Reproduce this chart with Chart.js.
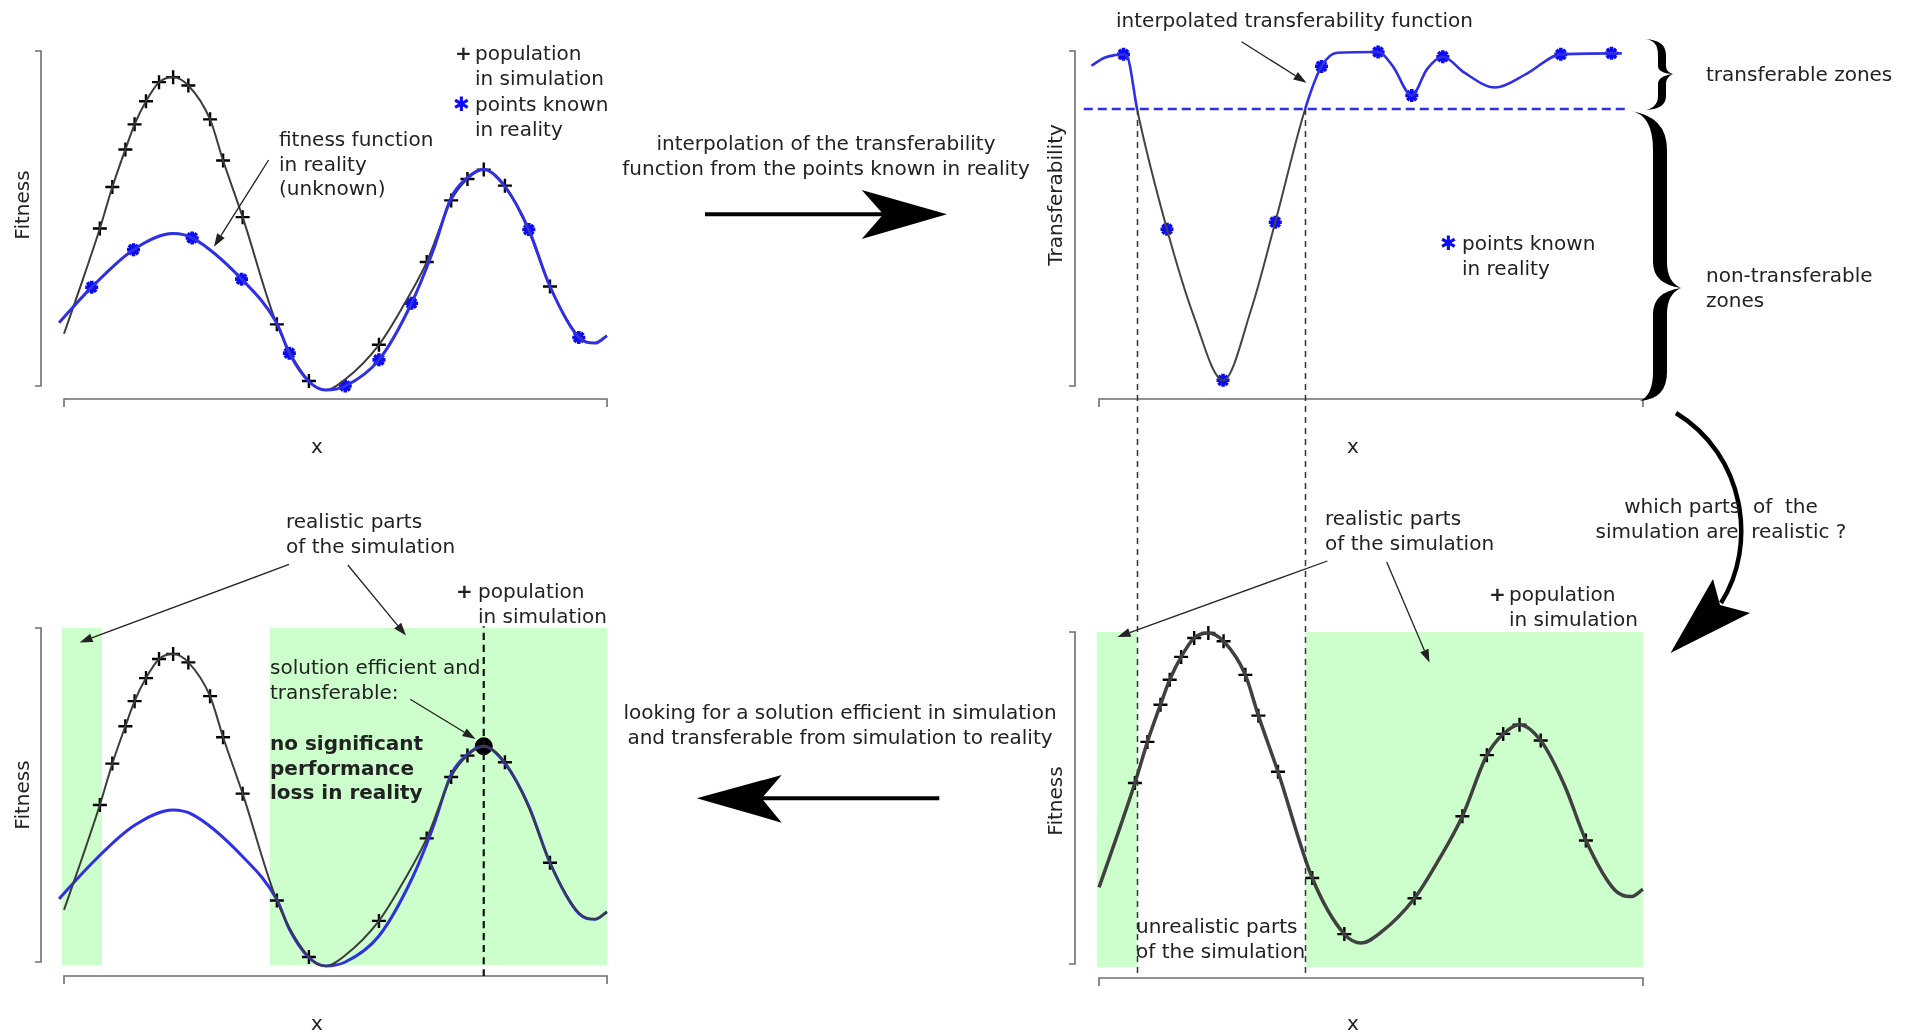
<!DOCTYPE html>
<html>
<head>
<meta charset="utf-8">
<title>Transferability approach</title>
<script src="https://cdn.jsdelivr.net/npm/chart.js@4.4.0/dist/chart.umd.min.js"></script>
<style>
  body { margin: 0; background: #fff; width: 1915px; height: 1032px; overflow: hidden; position: relative;
         font-family: "DejaVu Sans", sans-serif; font-size: 20px; color: #222; }
  canvas { position: absolute; }
  .t { position: absolute; line-height: 24.5px; white-space: nowrap; }
  .cc { position: absolute; line-height: 24.5px; white-space: nowrap; text-align: center; transform: translate(-50%, -50%); }
  .rot { position: absolute; white-space: nowrap; transform: translate(-50%, -50%) rotate(-90deg); }
  .b { font-weight: bold; }
  .blue { color: #0b0bf5; }
  svg { position: absolute; left: 0; top: 0; }
</style>
</head>
<body>
<canvas id="cTL"></canvas>
<canvas id="cBL"></canvas>
<canvas id="cBR"></canvas>
<canvas id="cTR"></canvas>
<svg id="ov" width="1915" height="1032"></svg>

<!-- top left -->
<div class="t b" style="left:455px;top:41px">+</div>
<div class="t" style="left:475px;top:41px">population<br>in simulation</div>
<div class="t blue" style="left:453px;top:92px">✱</div>
<div class="t" style="left:475px;top:92px">points known<br>in reality</div>
<div class="t" style="left:279px;top:127px">fitness function<br>in reality<br>(unknown)</div>
<div class="rot" style="left:22px;top:205px">Fitness</div>
<div class="cc" style="left:317px;top:446px">x</div>

<div class="cc" style="left:826px;top:155px">interpolation of the transferability<br>function from the points known in reality</div>

<!-- top right -->
<div class="t" style="left:1116px;top:8px">interpolated transferability function</div>
<div class="t blue" style="left:1440px;top:231px">✱</div>
<div class="t" style="left:1462px;top:231px">points known<br>in reality</div>
<div class="t" style="left:1706px;top:62px">transferable zones</div>
<div class="t" style="left:1706px;top:263px">non-transferable<br>zones</div>
<div class="rot" style="left:1055px;top:195px">Transferability</div>
<div class="cc" style="left:1353px;top:446px">x</div>

<div class="cc" style="left:840px;top:724px">looking for a solution efficient in simulation<br>and transferable from simulation to reality</div>

<!-- bottom left -->
<div class="t" style="left:286px;top:509px">realistic parts<br>of the simulation</div>
<div class="t b" style="left:456px;top:579px">+</div>
<div class="t" style="left:478px;top:579px">population<br>in simulation</div>
<div class="t" style="left:270px;top:655px">solution efficient and<br>transferable:</div>
<div class="t b" style="left:270px;top:731px">no significant<br>performance<br>loss in reality</div>
<div class="rot" style="left:22px;top:795px">Fitness</div>
<div class="cc" style="left:317px;top:1023px">x</div>

<!-- bottom right -->
<div class="t" style="left:1325px;top:506px">realistic parts<br>of the simulation</div>
<div class="t b" style="left:1489px;top:582px">+</div>
<div class="t" style="left:1509px;top:582px">population<br>in simulation</div>
<div class="t" style="left:1136px;top:914px">unrealistic parts<br>of the simulation</div>
<div class="cc" style="left:1721px;top:518px">which parts&nbsp;&nbsp;of&nbsp;&nbsp;the<br>simulation are&nbsp;&nbsp;realistic ?</div>
<div class="rot" style="left:1055px;top:801px">Fitness</div>
<div class="cc" style="left:1353px;top:1023px">x</div>

<script>
// x is read on a 0..10 scale along each x axis, y on 0..10 along the y axis bracket

// fitness in simulation (black curve)
const simX       = [0, 0.33, 0.66, 0.89, 1.13, 1.30, 1.51, 1.75, 2.01, 2.29, 2.69, 2.93, 3.29, 3.92, 4.51, 4.82, 5.18, 5.80, 6.25, 6.68, 7.13, 7.43, 7.73, 8.12, 8.56, 8.95, 9.48, 9.78, 10];
const simFitness = [1.56, 3.10, 4.70, 5.94, 7.06, 7.81, 8.50, 9.07, 9.22, 8.97, 7.96, 6.73, 5.04, 1.84, 0.15, -0.12, 0.20, 1.23, 2.40, 3.70, 5.54, 6.18, 6.46, 5.98, 4.62, 2.97, 1.48, 1.28, 1.50];

// fitness in reality (blue curve)
const realX       = [-0.09, 0.51, 1.28, 2.01, 2.36, 3.27, 3.92, 4.15, 4.50, 4.82, 5.18, 5.80, 6.40, 6.80, 7.13, 7.43, 7.73, 8.12, 8.56, 8.95, 9.48, 9.78, 10];
const realFitness = [1.89, 2.95, 4.07, 4.55, 4.42, 3.19, 1.87, 0.98, 0.15, -0.12, 0.0, 0.78, 2.47, 4.05, 5.62, 6.22, 6.46, 5.95, 4.67, 2.97, 1.45, 1.28, 1.50];

// population in simulation (+)
const popX       = [0.66, 0.89, 1.13, 1.30, 1.51, 1.75, 2.01, 2.29, 2.69, 2.93, 3.29, 3.92, 4.51, 5.80, 6.68, 7.13, 7.43, 7.73, 8.12, 8.95];
const popFitness = [4.70, 5.94, 7.06, 7.81, 8.50, 9.07, 9.22, 8.97, 7.96, 6.73, 5.04, 1.84, 0.15, 1.23, 3.70, 5.54, 6.18, 6.46, 5.98, 2.97];

// points tested in reality
const knownX       = [0.51, 1.28, 2.36, 3.27, 4.15, 5.18, 5.80, 6.40, 8.56, 9.48];
const knownFitness = [2.95, 4.07, 4.42, 3.19, 0.98, 0.0, 0.78, 2.47, 4.67, 1.45];

// interpolated transferability
const transfX         = [-0.14, 0.10, 0.30, 0.45, 0.53, 0.70, 1.25, 1.75, 2.28, 2.80, 3.24, 3.79, 4.09, 4.38, 5.13, 5.40, 5.75, 6.03, 6.32, 6.71, 7.28, 7.85, 8.49, 9.42, 9.61];
const transferability = [9.56, 9.80, 9.88, 9.90, 9.80, 8.27, 4.68, 2.05, 0.17, 2.30, 4.89, 8.27, 9.54, 9.95, 9.97, 9.55, 8.67, 9.46, 9.83, 9.36, 8.91, 9.31, 9.90, 9.93, 9.93];
const knownTransfX = [0.45, 1.25, 2.28, 3.24, 4.09, 5.13, 5.75, 6.32, 8.49, 9.42];
const knownTransf  = [9.90, 4.68, 0.17, 4.89, 9.54, 9.97, 8.67, 9.83, 9.90, 9.93];

const threshold = 8.27;
const thresholdSpan = [-0.28, 9.69];
const realisticZones = [[-0.04, 0.70], [3.79, 10]];
const solution = {x: 7.73, y: 6.46};
const solutionSpan = [-0.42, 10.05];

const blue = '#2f2fe6', markBlue = '#0b0bf5', dark = '#3c3c3c';

function pts(xs, ys) { return xs.map((x, i) => ({x: x, y: ys[i]})); }

function curve(xs, ys, color, width, extra) {
  return Object.assign({
    data: pts(xs, ys), showLine: true, borderColor: color, borderWidth: width,
    pointRadius: 0, cubicInterpolationMode: 'monotone', clip: false, fill: false
  }, extra || {});
}
function marks(xs, ys, style, color, r, w) {
  return {data: pts(xs, ys), showLine: false, pointStyle: style, pointRadius: r,
          pointBorderWidth: w, borderColor: color, backgroundColor: color, clip: false};
}

// axis brackets, green zones and drop lines, all placed through the chart scales
const decoPlugin = {
  id: 'deco',
  beforeDatasetsDraw(chart, args, o) {
    const ctx = chart.ctx, a = chart.chartArea, x = chart.scales.x, y = chart.scales.y;
    ctx.save();
    if (o.zones) {
      ctx.fillStyle = '#ccffcc';
      realisticZones.forEach(z => {
        const p0 = x.getPixelForValue(z[0]), p1 = x.getPixelForValue(z[1]);
        ctx.fillRect(p0, a.top, p1 - p0, a.bottom - a.top + 3);
      });
    }
    ctx.strokeStyle = '#6e6e6e';
    ctx.lineWidth = 1.6;
    const ax = a.left - o.gapY, yT = y.getPixelForValue(y.max), yB = y.getPixelForValue(y.min);
    ctx.beginPath();
    ctx.moveTo(ax - 6, yT); ctx.lineTo(ax, yT); ctx.lineTo(ax, yB); ctx.lineTo(ax - 6, yB);
    const ay = a.bottom + o.gapX, x0 = x.getPixelForValue(0), x1 = x.getPixelForValue(10);
    ctx.moveTo(x0, ay + 8); ctx.lineTo(x0, ay); ctx.lineTo(x1, ay); ctx.lineTo(x1, ay + 8);
    ctx.stroke();
    ctx.restore();
  },
  afterDatasetsDraw(chart, args, o) {
    if (!o.drops) return;
    const ctx = chart.ctx, x = chart.scales.x, y = chart.scales.y;
    ctx.save();
    ctx.strokeStyle = '#333';
    ctx.lineWidth = 1.5;
    ctx.setLineDash([6, 5]);
    [realisticZones[0][1], realisticZones[1][0]].forEach(v => {
      const px = Math.round(x.getPixelForValue(v)) + 0.5;
      ctx.beginPath();
      ctx.moveTo(px, y.getPixelForValue(threshold));
      ctx.lineTo(px, chart.height);
      ctx.stroke();
    });
    ctx.restore();
  }
};

function panel(id, box, yRange, datasets, deco, padBottom) {
  const pad = {left: 60, right: 40, top: 45, bottom: padBottom || 30};
  const cv = document.getElementById(id);
  cv.width = box.w + pad.left + pad.right;
  cv.height = box.h + pad.top + pad.bottom;
  cv.style.width = cv.width + 'px';
  cv.style.height = cv.height + 'px';
  cv.style.left = (box.x - pad.left) + 'px';
  cv.style.top = (box.y - pad.top) + 'px';
  return new Chart(cv, {
    type: 'scatter',
    data: {datasets: datasets},
    options: {
      responsive: false, animation: false, devicePixelRatio: 1, events: [],
      layout: {padding: pad},
      elements: {line: {capBezierPoints: false}},
      plugins: {legend: {display: false}, tooltip: {enabled: false}, deco: deco},
      scales: {
        x: {type: 'linear', min: 0, max: 10, display: false},
        y: {type: 'linear', min: yRange[0], max: yRange[1], display: false}
      }
    },
    plugins: [decoPlugin]
  });
}

// top left: simulation vs reality
panel('cTL', {x: 63.5, y: 51, w: 543.5, h: 335}, [0, 10], [
  curve(realX, realFitness, blue, 3),
  curve(simX, simFitness, dark, 2),
  marks(popX, popFitness, 'cross', '#000', 7, 2.4),
  marks(knownX, knownFitness, 'star', markBlue, 6.5, 3.6)
], {gapX: 13, gapY: 23});

// bottom left: solution found
panel('cBL', {x: 63.5, y: 628, w: 543.5, h: 334}, [0, 10], [
  curve(simX, simFitness, dark, 2),
  curve(realX, realFitness, blue, 3),
  curve([solution.x, solution.x], solutionSpan, '#111', 2.2, {borderDash: [7, 5]}),
  marks(popX.filter(v => v !== solution.x), popFitness.filter((v, i) => popX[i] !== solution.x), 'cross', '#000', 7, 2.4),
  {data: [solution], showLine: false, pointRadius: 8.5, backgroundColor: '#000', borderColor: '#000', clip: false}
], {gapX: 14, gapY: 23, zones: true});

// bottom right: realistic parts of the simulation
panel('cBR', {x: 1099, y: 632, w: 544, h: 332}, [-0.75, 9.25], [
  curve(simX, simFitness, '#404040', 3.5),
  marks(popX, popFitness, 'cross', '#000', 7, 2.4)
], {gapX: 14, gapY: 24, zones: true});

// top right: transferability
panel('cTR', {x: 1099, y: 51, w: 544, h: 335}, [0, 10], [
  curve(thresholdSpan, [threshold, threshold], blue, 2.5, {borderDash: [9, 5]}),
  curve(transfX, transferability, blue, 2.6, {segment: {
    borderColor: c => (c.p0.parsed.y < threshold - 0.01 || c.p1.parsed.y < threshold - 0.01) ? '#444' : blue,
    borderWidth: c => (c.p0.parsed.y < threshold - 0.01 || c.p1.parsed.y < threshold - 0.01) ? 2 : 2.6
  }}),
  marks(knownTransfX, knownTransf, 'star', markBlue, 6.5, 3.6)
], {gapX: 13, gapY: 24, drops: true}, 591);

// arrows and braces
const ns = 'http://www.w3.org/2000/svg', ov = document.getElementById('ov');
function el(name, attrs) {
  const e = document.createElementNS(ns, name);
  for (const k in attrs) e.setAttribute(k, attrs[k]);
  ov.appendChild(e);
  return e;
}
function thinArrow(x1, y1, x2, y2) {
  const a = Math.atan2(y2 - y1, x2 - x1), L = 13, W = 4.5;
  const bx = x2 - L * Math.cos(a), by = y2 - L * Math.sin(a);
  el('line', {x1: x1, y1: y1, x2: bx, y2: by, stroke: '#222', 'stroke-width': 1.3});
  el('polygon', {points: [x2, y2, bx + W * Math.sin(a), by - W * Math.cos(a), bx - W * Math.sin(a), by + W * Math.cos(a)].join(' '), fill: '#222'});
}
thinArrow(268.6, 160, 214, 246.7);
thinArrow(1241.6, 41.7, 1306.5, 82.7);
thinArrow(289, 564.4, 79.6, 642.4);
thinArrow(347.8, 565, 406, 635.6);
thinArrow(410.2, 699.3, 475.5, 739);
thinArrow(1327.4, 561, 1117.5, 637);
thinArrow(1386.7, 562, 1429.5, 662.5);

// big arrows between panels
el('line', {x1: 705, y1: 214.3, x2: 886, y2: 214.3, stroke: '#000', 'stroke-width': 4});
el('polygon', {points: '947,214.3 861.7,190 883.3,214.3 861.7,239', fill: '#000'});
el('line', {x1: 759, y1: 798.3, x2: 939.3, y2: 798.3, stroke: '#000', 'stroke-width': 4});
el('polygon', {points: '696.7,798.3 781.7,775 761.7,798.3 781.7,822.7', fill: '#000'});
el('path', {d: 'M1676,413 C1745,455 1758,545 1721,603', fill: 'none', stroke: '#000', 'stroke-width': 4.5});
el('polygon', {points: '1670.5,653 1713,579 1720,605 1750,613', fill: '#000'});

// braces, filled with tapered ends
el('path', {d: 'M1645,39 Q1658,40 1658,55 L1658,66 Q1658,73 1673,74 Q1658,76 1658,84 L1658,96 Q1658,107 1646,110 ' +
               'Q1666,109 1666,96 L1666,84 Q1666,77 1673,74 Q1666,72 1666,66 L1666,55 Q1666,40 1645,39 Z', fill: '#000'});
el('path', {d: 'M1630,111 Q1653,114 1653,150 L1653,262 Q1653,284 1681,288 Q1653,292 1653,314 L1653,372 Q1653,395 1640,401 ' +
               'Q1667,399 1667,372 L1667,314 Q1667,294 1681,288 Q1667,282 1667,262 L1667,150 Q1667,116 1630,111 Z', fill: '#000'});
</script>
</body>
</html>
